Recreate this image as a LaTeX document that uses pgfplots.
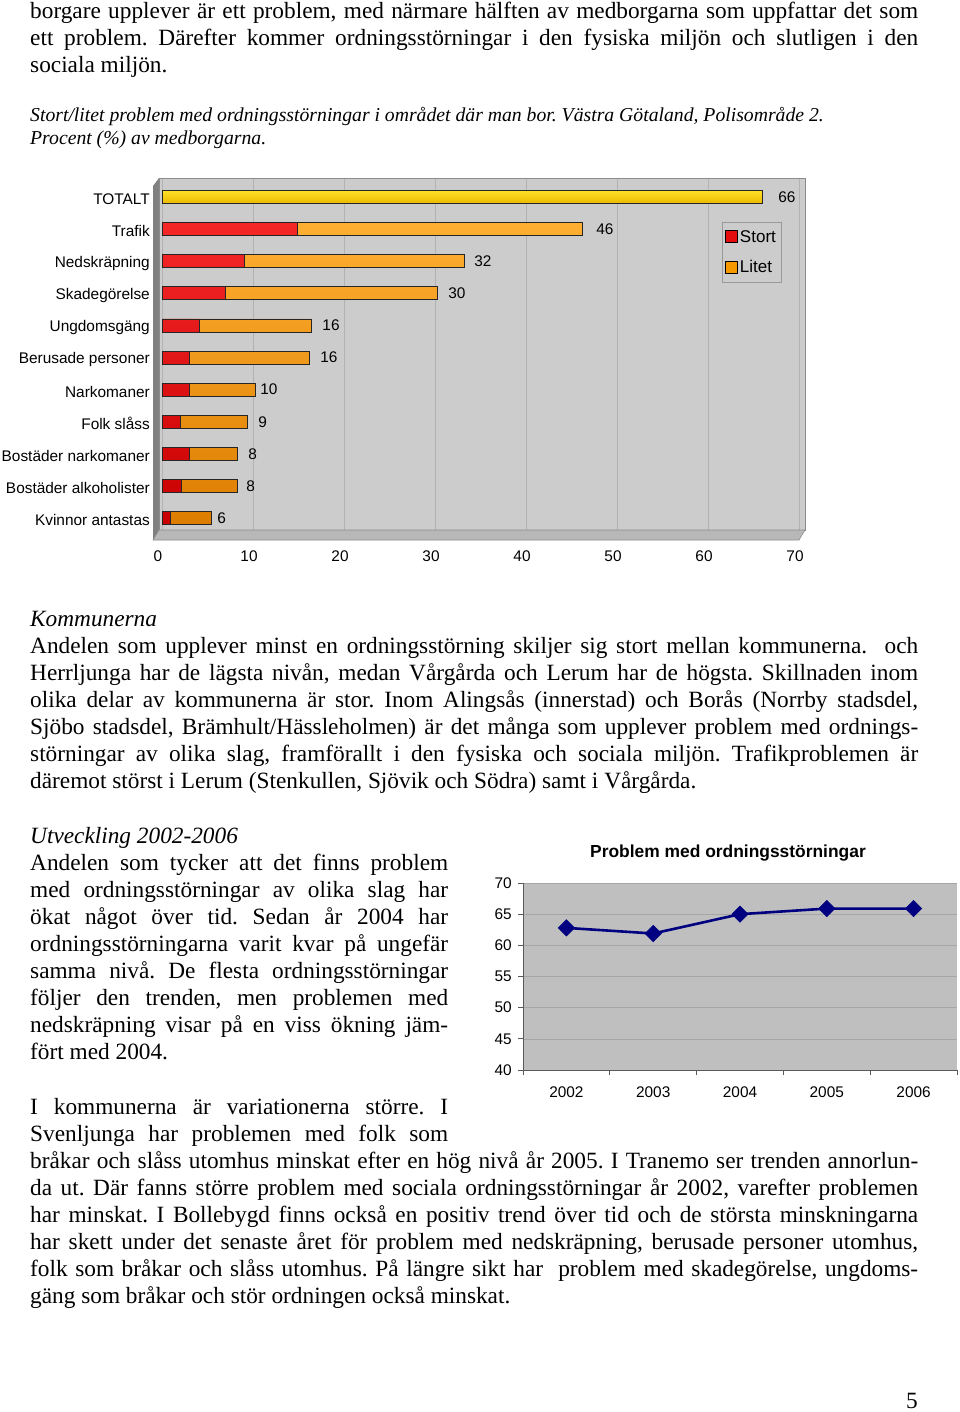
\documentclass[border=0pt]{standalone}
\usepackage{fontspec}
\setmainfont{Liberation Serif}
\setsansfont{Liberation Sans}
\usepackage{pgfplots}
\pgfplotsset{compat=1.18}
\usepackage{pgfplotstable}

\definecolor{stort}{RGB}{228,12,12}
\definecolor{litet}{RGB}{246,152,0}
\definecolor{total}{RGB}{250,206,0}
\definecolor{navyl}{RGB}{0,0,128}
\definecolor{litetT}{RGB}{255,175,50}
\definecolor{litetB}{RGB}{220,125,0}
\definecolor{stortT}{RGB}{245,40,40}
\definecolor{stortB}{RGB}{200,0,0}
\definecolor{totalT}{RGB}{255,225,40}
\definecolor{totalB}{RGB}{235,185,0}

% y index, total length, stort part, printed label, label offset
\pgfplotstableread{
y tot stort lab dx
0 5.4 0.9 6 5.9
1 8.3 2.1 8 8.5
2 8.3 3.0 8 10.5
3 9.4 2.0 9 10.5
4 10.3 3.0 10 4.3
5 16.2 3.0 16 10.6
6 16.4 4.1 16 10.8
7 30.3 7.0 30 10.3
8 33.2 9.0 32 9.9
9 46.2 14.9 46 13.6
}\bars

\pgfplotstableread{
yr val
0 62.8
1 61.9
2 65.0
3 65.9
4 65.9
}\trend

\newcommand\bodyfont{\fontsize{23.3bp}{27bp}\selectfont}
\newcommand\JL[3]{\node[anchor=base west,inner sep=0pt,font=\bodyfont] at (30bp,-#1bp) {\hbox to #2bp{\spaceskip=.25em plus 1fil minus .12em\relax #3}};}
\newcommand\LL[2]{\node[anchor=base west,inner sep=0pt,font=\bodyfont] at (30bp,-#1bp) {#2};}
\newcommand\chartfont{\fontsize{15.4bp}{18bp}\selectfont\sffamily}

\begin{document}
\frenchspacing
\begin{tikzpicture}
\useasboundingbox (0,0) rectangle (960bp,-1412bp);

% ---------- top text ----------
\JL{18}{888}{borgare upplever är ett problem, med närmare hälften av medborgarna som uppfattar det som}
\JL{45}{888}{ett problem. Därefter kommer ordningsstörningar i den fysiska miljön och slutligen i den}
\LL{72}{sociala miljön.}
\node[anchor=base west,inner sep=0pt,font=\fontsize{19.7bp}{22bp}\selectfont\itshape] at (30bp,-121.5bp) {Stort/litet problem med ordningsstörningar i området där man bor. Västra Götaland, Polisområde 2.};
\node[anchor=base west,inner sep=0pt,font=\fontsize{19.7bp}{22bp}\selectfont\itshape] at (30bp,-144bp) {Procent (\%) av medborgarna.};

% ---------- bar chart ----------
\begin{axis}[
  at={(159bp,-530bp)}, anchor=south west,
  scale only axis, width=646bp, height=352bp,
  xmin=-0.33, xmax=70.66, ymin=-0.374, ymax=10.592,
  axis background/.style={fill=black!20},
  axis line style={draw=black!45, line width=0.6bp},
  xtick={0,10,...,70}, ytick={0,...,10},
  yticklabels={Kvinnor antastas, Bostäder alkoholister, Bostäder narkomaner, Folk slåss, Narkomaner, Berusade personer, Ungdomsgäng, Skadegörelse, Nedskräpning, Trafik, TOTALT},
  tick label style={font=\chartfont},
  /pgf/number format/assume math mode=true,
  yticklabel style={inner sep=0pt, xshift=-9bp, yshift=-2bp},
  xticklabel style={inner sep=0pt, yshift=-21bp, xshift=-4bp},
  major tick length=0pt,
  xmajorgrids, grid style={draw=black!30, line width=0.6bp},
  xbar, bar width=13bp, bar shift=0pt,
  legend style={at={(axis description cs:0.8715,0.875)}, anchor=north west,
    fill=black!20, draw=black!40, font=\fontsize{17bp}{20bp}\selectfont\sffamily,
    inner xsep=3bp, inner ysep=6bp, row sep=13bp},
  legend cell align=left,
]
\addlegendimage{legend image code/.code={\draw[fill=stort,draw=black,line width=0.8bp] (0bp,-6bp) rectangle (12bp,6bp);}}
\addlegendimage{legend image code/.code={\draw[fill=litet,draw=black,line width=0.8bp] (0bp,-6bp) rectangle (12bp,6bp);}}
\addplot[forget plot, xbar, bar shift=0pt, draw=black!85, line width=0.8bp,
  top color=litetT, bottom color=litetB,
  nodes near coords, point meta=explicit symbolic,
  visualization depends on={\thisrow{dx} \as \dx},
  nodes near coords style={anchor=west, inner sep=0pt, xshift=\dx bp, font=\chartfont, text=black}]
  table[x=tot, y=y, meta=lab] {\bars};
\addplot[forget plot, xbar, bar shift=0pt, draw=black!85, line width=0.8bp,
  top color=stortT, bottom color=stortB]
  table[x=stort, y=y] {\bars};
\addplot[forget plot, xbar, bar shift=0pt, draw=black!85, line width=0.8bp,
  top color=totalT, bottom color=totalB,
  nodes near coords, point meta=explicit symbolic,
  nodes near coords style={anchor=west, inner sep=0pt, xshift=15.4bp, font=\chartfont, text=black}]
  coordinates {(66,10) [66]};
\legend{Stort,Litet}
\end{axis}
% 3D wall and floor
\fill[black!50] (153bp,-186bp) -- (159bp,-178bp) -- (159bp,-530bp) -- (153bp,-540bp) -- cycle;
\filldraw[fill=black!28, draw=black!45, line width=0.6bp] (153bp,-540bp) -- (159bp,-530bp) -- (805bp,-530bp) -- (799bp,-540bp) -- cycle;

% ---------- Kommunerna ----------
\LL{626}{\itshape Kommunerna}
\JL{653}{888}{Andelen som upplever minst en ordningsstörning skiljer sig stort mellan kommunerna.\ \ och}
\JL{680}{888}{Herrljunga har de lägsta nivån, medan Vårgårda och Lerum har de högsta. Skillnaden inom}
\JL{707}{888}{olika delar av kommunerna är stor. Inom Alingsås (innerstad) och Borås (Norrby stadsdel,}
\JL{734}{888}{Sjöbo stadsdel, Brämhult/Hässleholmen) är det många som upplever problem med ordnings-}
\JL{761}{888}{störningar av olika slag, framförallt i den fysiska och sociala miljön. Trafikproblemen är}
\LL{788}{däremot störst i Lerum (Stenkullen, Sjövik och Södra) samt i Vårgårda.}

% ---------- Utveckling ----------
\LL{843}{\itshape Utveckling 2002-2006}
\JL{870}{418}{Andelen som tycker att det finns problem}
\JL{897}{418}{med ordningsstörningar av olika slag har}
\JL{924}{418}{ökat något över tid. Sedan år 2004 har}
\JL{951}{418}{ordningsstörningarna varit kvar på ungefär}
\JL{978}{418}{samma nivå. De flesta ordningsstörningar}
\JL{1005}{418}{följer den trenden, men problemen med}
\JL{1032}{418}{nedskräpning visar på en viss ökning jäm-}
\LL{1059}{fört med 2004.}
\JL{1114}{418}{I kommunerna är variationerna större. I}
\JL{1141}{418}{Svenljunga har problemen med folk som}
\JL{1168}{888}{bråkar och slåss utomhus minskat efter en hög nivå år 2005. I Tranemo ser trenden annorlun-}
\JL{1195}{888}{da ut. Där fanns större problem med sociala ordningsstörningar år 2002, varefter problemen}
\JL{1222}{888}{har minskat. I Bollebygd finns också en positiv trend över tid och de största minskningarna}
\JL{1249}{888}{har skett under det senaste året för problem med nedskräpning, berusade personer utomhus,}
\JL{1276}{888}{folk som bråkar och slåss utomhus. På längre sikt har\ \ problem med skadegörelse, ungdoms-}
\LL{1303}{gäng som bråkar och stör ordningen också minskat.}
\node[anchor=base east,inner sep=0pt,font=\bodyfont] at (918bp,-1408bp) {5};

% ---------- line chart ----------
\node[anchor=base,inner sep=0pt,font=\fontsize{17.4bp}{20bp}\selectfont\sffamily\bfseries] at (728bp,-857bp) {Problem med ordningsstörningar};
\begin{axis}[
  at={(523bp,-1070bp)}, anchor=south west,
  scale only axis, width=434bp, height=187bp,
  xmin=-0.5, xmax=4.5, ymin=40, ymax=70,
  axis background/.style={fill=black!25},
  axis x line*=bottom, axis y line*=left,
  axis line style={-, draw=black!65, line width=0.8bp},
  ytick={40,45,...,70},
  xtick={-0.5,0.5,...,4.5}, xticklabels={},
  extra x ticks={0,1,2,3,4},
  extra x tick labels={2002,2003,2004,2005,2006},
  extra x tick style={major tick length=0pt, grid=none,
     xticklabel style={inner sep=0pt, anchor=north, yshift=-17bp}},
  tick align=outside, major tick length=5bp,
  tick style={draw=black!65, line width=0.8bp},
  tick label style={font=\chartfont},
  /pgf/number format/assume math mode=true,
  yticklabel style={inner sep=0pt, anchor=east, xshift=-6bp},
  ymajorgrids, grid style={draw=black!35, line width=0.6bp},
]
\addplot[color=navyl, line width=2.6bp, mark=square*, mark size=5.8bp,
  mark options={rotate=45, fill=navyl, solid, line width=0.5bp}]
  table[x=yr, y=val] {\trend};
\end{axis}
\end{tikzpicture}
\end{document}
